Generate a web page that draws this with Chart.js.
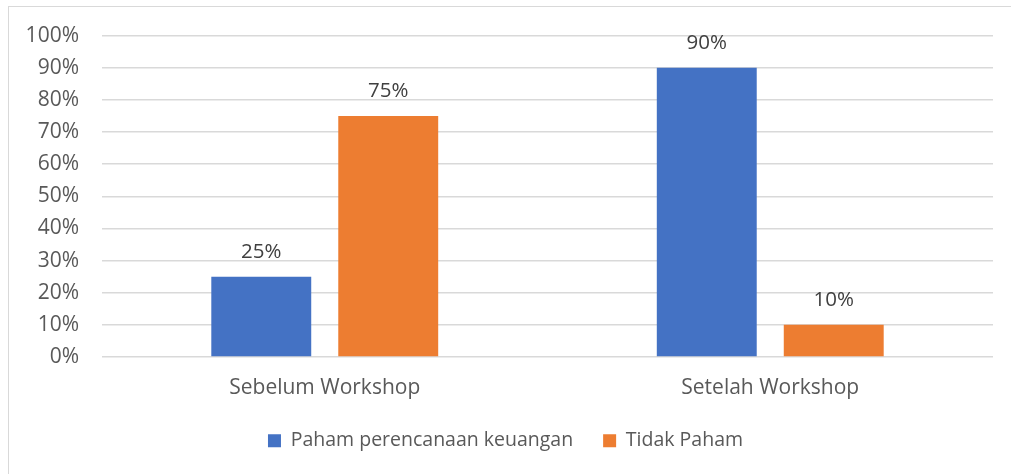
<!DOCTYPE html>
<html>
<head>
<meta charset="utf-8">
<script src="https://cdn.jsdelivr.net/npm/chart.js@4/dist/chart.umd.min.js"></script>
<style>
html,body{margin:0;padding:0;background:#fff;overflow:hidden;}
#wrap{position:relative;width:1011px;height:474px;}
#frame{position:absolute;left:8px;top:6px;width:1100px;height:600px;border:1px solid #d9d9d9;box-sizing:border-box;}
canvas{position:absolute;left:0;top:0;}
</style>
</head>
<body>
<div id="wrap"><div id="frame"></div><canvas id="c" width="1011" height="474"></canvas></div>
<script>
const categories = ["Sebelum Workshop", "Setelah Workshop"];
const seriesNames = ["Paham perencanaan keuangan", "Tidak Paham"];
const pahamValues = [25, 90];
const tidakPahamValues = [75, 10];
const yTicks = [0, 10, 20, 30, 40, 50, 60, 70, 80, 90, 100];

const FONT = "'Open Sans', sans-serif";

const dataLabels = {
  id: 'dataLabels',
  afterDatasetsDraw(chart) {
    const ctx = chart.ctx;
    ctx.save();
    ctx.font = "20.5px " + FONT;
    ctx.fillStyle = '#404040';
    ctx.textAlign = 'center';
    ctx.textBaseline = 'alphabetic';
    chart.data.datasets.forEach((ds, i) => {
      const meta = chart.getDatasetMeta(i);
      meta.data.forEach((el, j) => {
        ctx.fillText(ds.data[j] + '%', el.x, el.y - 19);
      });
    });
    ctx.restore();
  }
};

new Chart(document.getElementById('c'), {
  type: 'bar',
  data: {
    labels: categories,
    datasets: [
      { label: seriesNames[0], data: pahamValues, backgroundColor: '#4472C4' },
      { label: seriesNames[1], data: tidakPahamValues, backgroundColor: '#ED7D31' }
    ]
  },
  options: {
    responsive: false,
    animation: false,
    devicePixelRatio: 1,
    categoryPercentage: 0.57,
    barPercentage: 0.787,
    layout: { padding: { left: 18, right: 18, top: 35, bottom: 13.5 } },
    scales: {
      x: {
        grid: { display: false, drawTicks: false },
        border: { display: false },
        ticks: { color: '#595959', font: { family: FONT, size: 21 }, padding: 18 },
        afterFit(s) { s.height = 44; }
      },
      y: {
        min: 0, max: 100,
        afterBuildTicks(s) { s.ticks = yTicks.map(v => ({ value: v })); },
        grid: { color: '#d9d9d9', lineWidth: 1.5, drawTicks: false },
        border: { display: false },
        ticks: { color: '#595959', font: { family: FONT, size: 21 }, padding: 23, callback: v => v + '%' },
        afterFit(s) { s.width = 84; }
      }
    },
    plugins: {
      legend: {
        position: 'bottom',
        labels: { color: '#595959', font: { family: FONT, size: 19.5 }, boxWidth: 13, boxHeight: 13, padding: 30 }
      },
      tooltip: { enabled: false }
    }
  },
  plugins: [dataLabels]
});
</script>
</body>
</html>
